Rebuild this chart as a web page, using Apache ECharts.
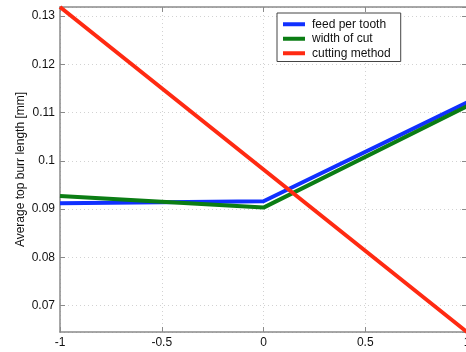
<!DOCTYPE html>
<html>
<head>
<meta charset="utf-8">
<script src="https://cdn.jsdelivr.net/npm/echarts@6/dist/echarts.min.js"></script>
<style>
  html, body { margin: 0; padding: 0; background: #fff; }
  #chart { width: 466px; height: 352px; }
</style>
</head>
<body>
<div id="chart"></div>
<script>
// Factor levels (coded) along the horizontal axis
const levels = [-1, 0, 1];

// Mean top burr length [mm] at each level, one array per factor
const feedPerTooth = [0.0912, 0.0916, 0.1121];
const widthOfCut = [0.0927, 0.0903, 0.1113];
const cuttingMethod = [0.1319, 0.0982, 0.0645];

const seriesNames = ['feed per tooth', 'width of cut', 'cutting method'];
const seriesValues = [feedPerTooth, widthOfCut, cuttingMethod];
const seriesColors = ['#1030ff', '#0b7d14', '#ff2a12'];

// Axis extents
const xMin = -1, xMax = 1, xStep = 0.5;
const yMin = 0.0645, yMax = 0.1319;

const FONT = '"Liberation Sans", Arial, Helvetica, sans-serif';
const AXIS_GRAY = '#8a8a8a';
const GRID_GRAY = '#d2d2d2';

const chart = echarts.init(document.getElementById('chart'), null, { renderer: 'canvas' });

const frameAxis = {
  axisLine: { show: true, onZero: false, lineStyle: { color: AXIS_GRAY, width: 1.5 } },
  axisTick: { show: true, inside: true, length: 5, lineStyle: { color: AXIS_GRAY, width: 1 } },
  axisLabel: { show: false },
  splitLine: { show: false }
};

chart.setOption({
  animation: false,
  backgroundColor: '#fff',
  textStyle: { fontFamily: FONT },
  // the plot frame runs slightly past the right edge of the canvas
  grid: { left: 60, top: 7, width: 407, height: 325, containLabel: false, outerBoundsMode: 'none' },
  legend: {
    data: seriesNames,
    orient: 'vertical',
    left: 277,
    top: 13,
    padding: [4, 10, 1, 6],
    itemGap: 0,
    itemWidth: 22,
    itemHeight: 4,
    icon: 'rect',
    backgroundColor: '#fff',
    borderColor: '#444',
    borderWidth: 1,
    borderRadius: 0,
    textStyle: { fontFamily: FONT, fontSize: 12, color: '#111', lineHeight: 14.5, padding: [0, 0, 0, 2] }
  },
  xAxis: [
    {
      type: 'value', min: xMin, max: xMax, interval: xStep, position: 'bottom',
      axisLine: { show: true, onZero: false, lineStyle: { color: AXIS_GRAY, width: 1.5 } },
      axisTick: { show: true, inside: true, length: 5, lineStyle: { color: AXIS_GRAY, width: 1 } },
      axisLabel: { show: true, margin: 5, fontSize: 12, color: '#111', fontFamily: FONT },
      splitLine: { show: true, lineStyle: { color: GRID_GRAY, type: [1, 3], width: 1 } }
    },
    Object.assign({ type: 'value', min: xMin, max: xMax, interval: xStep, position: 'top' }, frameAxis)
  ],
  yAxis: [
    {
      type: 'value', min: yMin, max: yMax, splitNumber: 7, position: 'left',
      name: 'Average top burr length [mm]',
      nameLocation: 'middle', nameRotate: 90, nameGap: 33, nameMoveOverlap: false,
      nameTextStyle: { fontSize: 12, color: '#111', fontFamily: FONT },
      axisLine: { show: true, onZero: false, lineStyle: { color: AXIS_GRAY, width: 1.5 } },
      axisTick: { show: true, inside: true, length: 5, lineStyle: { color: AXIS_GRAY, width: 1 } },
      axisLabel: { show: true, margin: 5, fontSize: 12, color: '#111', fontFamily: FONT,
                   showMinLabel: false, showMaxLabel: false },
      splitLine: { show: true, lineStyle: { color: GRID_GRAY, type: [1, 3], width: 1 } }
    },
    Object.assign({ type: 'value', min: yMin, max: yMax, splitNumber: 7, position: 'right' }, frameAxis)
  ],
  series: seriesNames.map((name, i) => ({
    name: name,
    type: 'line',
    xAxisIndex: 0,
    yAxisIndex: 0,
    data: levels.map((x, j) => [x, seriesValues[i][j]]),
    showSymbol: false,
    symbol: 'none',
    lineStyle: { color: seriesColors[i], width: 4 },
    itemStyle: { color: seriesColors[i] },
    clip: true,
    z: 2 + i
  }))
});
</script>
</body>
</html>
